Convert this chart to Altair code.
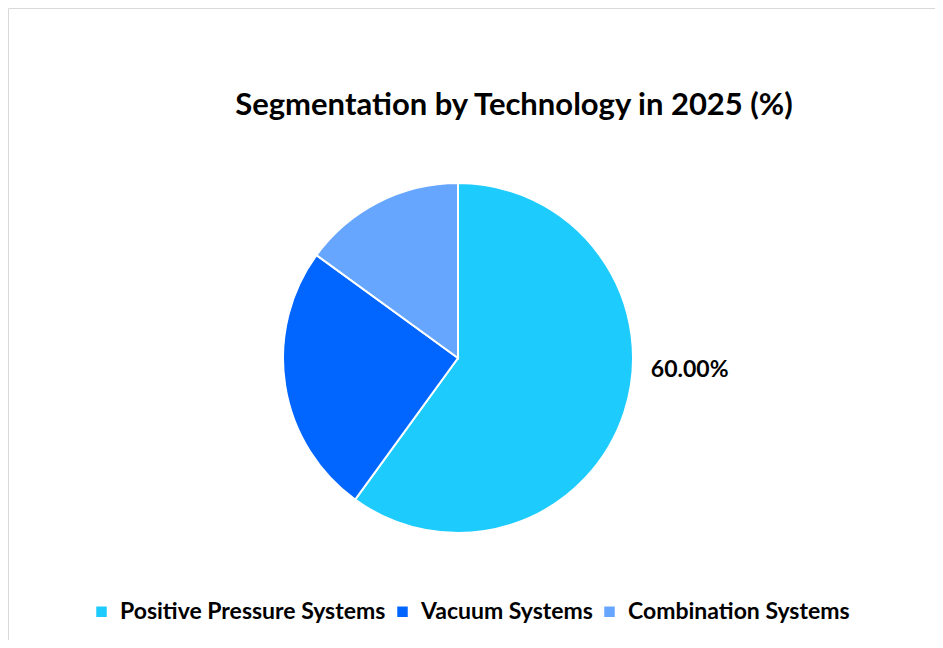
import altair as alt
import pandas as pd

categories = ["Positive Pressure Systems", "Vacuum Systems", "Combination Systems"]
shares = [60.0, 25.0, 15.0]
colors = ["#1ECBFD", "#0066FF", "#66A6FF"]
order_idx = [0, 1, 2]

df = pd.DataFrame({"Technology": categories, "Share": shares, "order": order_idx})
df["label"] = [f"{v:.2f}%" for v in shares]

FONT = "Lato"
CX, CY, R = 450, 350, 175

base = alt.Chart(df)

pie = base.mark_arc(outerRadius=R, stroke="white", strokeWidth=2).encode(
    theta=alt.Theta("Share:Q", stack=True),
    order=alt.Order("order:Q"),
    color=alt.Color(
        "Technology:N",
        sort=categories,
        scale=alt.Scale(domain=categories, range=colors),
        legend=alt.Legend(
            title=None,
            orient="none",
            legendX=82,
            legendY=592,
            direction="horizontal",
            symbolType="square",
            symbolSize=110,
            symbolStrokeWidth=0,
            labelFont=FONT,
            labelFontSize=23,
            labelFontWeight="bold",
            labelColor="#000000",
            labelOffset=7,
            columnPadding=5,
            labelLimit=400,
        ),
    ),
    x=alt.value(CX),
    y=alt.value(CY),
)

label = base.transform_filter(alt.datum.order == 0).mark_text(
    font=FONT, fontSize=23, fontWeight="bold", color="#000000",
    align="center", baseline="middle",
).encode(
    text="label:N",
    x=alt.value(CX),
    y=alt.value(CY),
    theta=alt.value(1.6224),
    radius=alt.value(232),
)

title = alt.Chart(pd.DataFrame({"t": ["Segmentation by Technology in 2025 (%)"]})).mark_text(
    font=FONT, fontSize=31, fontWeight="bold", color="#000000",
    align="center", baseline="alphabetic",
).encode(text="t:N", x=alt.value(506), y=alt.value(107))

chart = alt.layer(pie, label, title).properties(
    width=927, height=632,
    autosize=alt.AutoSizeParams(type="none"),
    padding=0,
    background="white",
).configure_view(stroke="#D9D9D9", strokeWidth=1)

chart.save("out.html", embed_options={"renderer": "svg", "actions": False})
